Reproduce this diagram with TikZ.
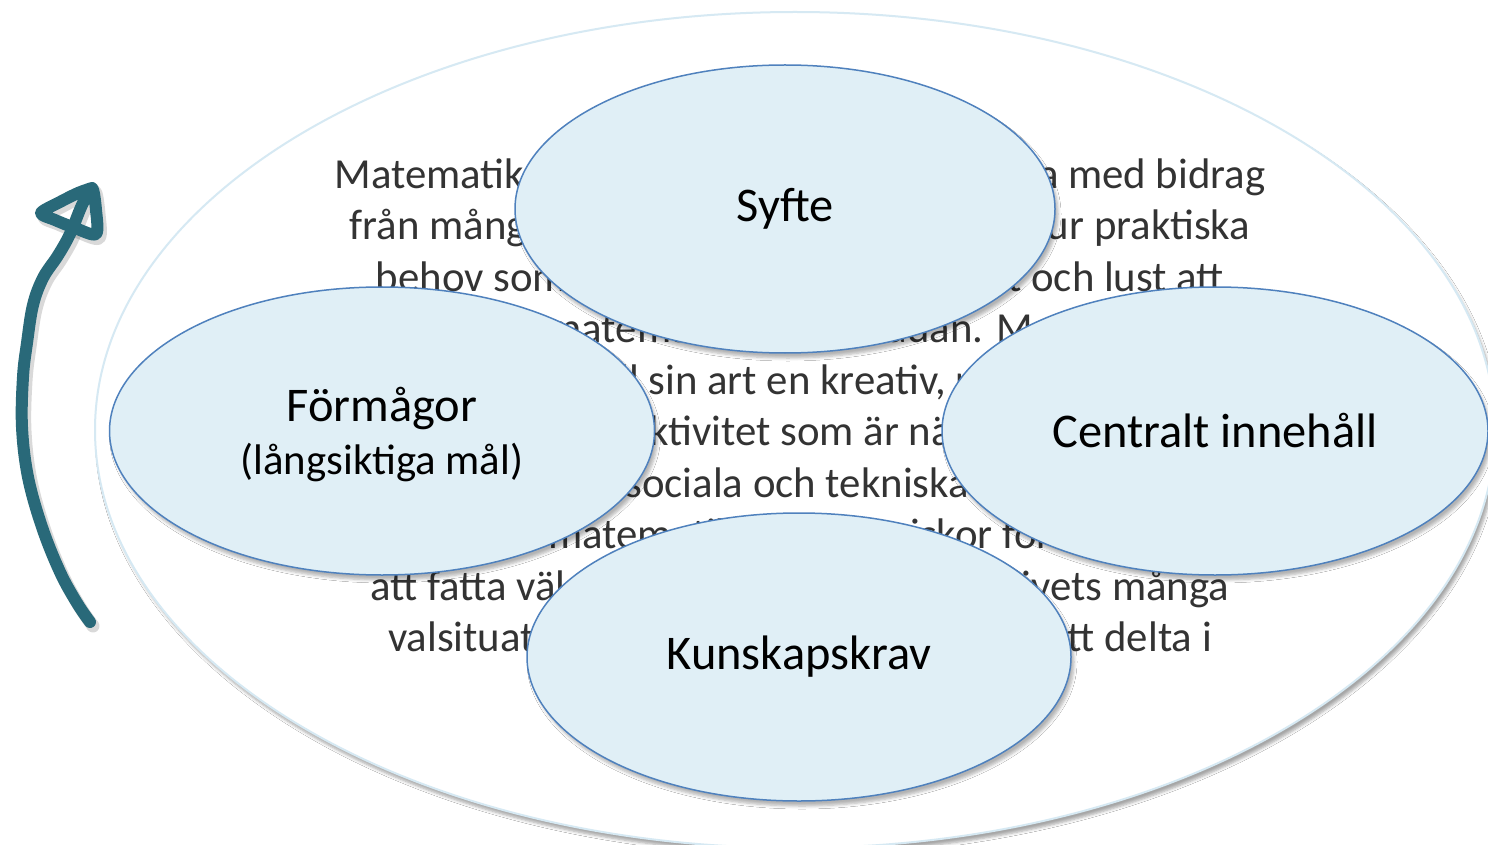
\documentclass[tikz,border=0pt]{standalone}
\usepackage{fontspec}
\setmainfont{Carlito}
\usetikzlibrary{shapes.geometric,shadows.blur}
\definecolor{ringline}{RGB}{214,233,243}
\definecolor{ovalfill}{RGB}{224,239,246}
\definecolor{ovalline}{RGB}{79,129,189}
\definecolor{bodytext}{RGB}{51,51,51}
\definecolor{arrowteal}{RGB}{41,105,121}
\begin{document}
\begin{tikzpicture}[x=0.5pt,y=-0.5pt,
  frame/.style={ellipse, draw=ringline, line width=1pt, fill=white, inner sep=0pt,
    blur shadow={shadow xshift=1.5pt, shadow yshift=-2.5pt, shadow blur steps=5, shadow blur radius=1.5pt, shadow opacity=35}},
  oval/.style={ellipse, draw=ovalline, line width=0.75pt, fill=ovalfill, inner sep=0pt,
    minimum height=144pt, font=\fontsize{24.2}{27}\selectfont, text=black, align=center,
    blur shadow={shadow xshift=1.5pt, shadow yshift=-2.5pt, shadow blur steps=5, shadow blur radius=1.5pt, shadow opacity=30}},
  ovallabel/.style={font=\fontsize{24.2}{27}\selectfont, text=black, align=center, inner sep=0pt},
  bodyblock/.style={align=center, text=bodytext, font=\fontsize{21.4}{25.75}\selectfont, inner sep=0pt},
  handarrow/.style={draw=arrowteal, line width=6pt, line cap=round, line join=round},
  handshadow/.style={draw=black, opacity=0.15, line width=6.5pt, line cap=round, line join=round}
]
\useasboundingbox (0,0) rectangle (1488,845);
\fill[white] (0,0) rectangle (1488,845);

% outer frame
\node[frame, minimum width=700pt, minimum height=418pt] (ring) at (795,430) {};

% background paragraph
\node[bodyblock] (para) at (800,434) {Matematiken har en flertusenårig historia med bidrag\\
från många kulturer. Den har utvecklats ur praktiska\\
behov som ur människans nyfikenhet och lust att\\
utforska matematiken som sådan. Matematisk\\
verksamhet är till sin art en kreativ, reflekterande och\\
problemlösande aktivitet som är nära kopplad till den\\
samhälleliga, sociala och tekniska utvecklingen.\\
Kunskaper i matematik ger människor förutsättningar\\
att fatta välgrundade beslut i vardagslivets många\\
valsituationer och ökar möjligheterna att delta i\\
samhällets beslutsprocesser.};

% four ovals
\node[oval, minimum width=270pt] (syfte) at (785,209) {Syfte};
\node[oval, minimum width=272.5pt] (formagor) at (382,431) {};
\node[ovallabel] (formagortext) at (382,435) {Förmågor\\[-0.5pt]{\fontsize{21.4}{24}\selectfont (långsiktiga mål)}};
\node[oval, minimum width=273pt] (centralt) at (1215,431) {Centralt innehåll};
\node[oval, minimum width=272pt] (kunskap) at (799,657) {Kunskapskrav};

% hand drawn arrow
\begin{scope}[shift={(3,4)}]
\draw[handshadow] plot[smooth, tension=0.6] coordinates {(90,622) (77,603) (60,572) (42,527) (28,477) (22,427) (23,377) (27,343) (33,305) (43,278) (57,257) (67,240) (74,225)};
\draw[handshadow] plot[smooth, tension=0.5] coordinates {(74,225) (82,205) (92,188) (96,210) (96,234) (75,228) (55,220) (41,213) (60,202) (78,193) (92,188)};
\end{scope}
\draw[handarrow] plot[smooth, tension=0.6] coordinates {(90,622) (77,603) (60,572) (42,527) (28,477) (22,427) (23,377) (27,343) (33,305) (43,278) (57,257) (67,240) (74,225)};
\draw[handarrow] plot[smooth, tension=0.5] coordinates {(74,225) (82,205) (92,188) (96,210) (96,234) (75,228) (55,220) (41,213) (60,202) (78,193) (92,188)};
\end{tikzpicture}
\end{document}
